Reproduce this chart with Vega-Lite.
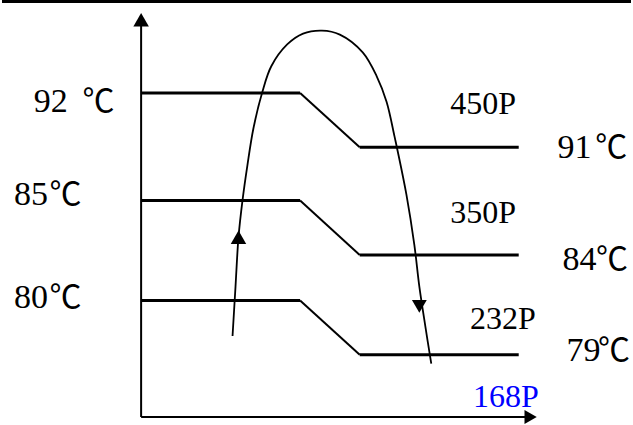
{
  "$schema": "https://vega.github.io/schema/vega-lite/v6.json",
  "width": 633,
  "height": 425,
  "padding": 0,
  "autosize": {"type": "fit", "contains": "padding"},
  "config": {"view": {"stroke": null}, "background": "white"},
  "datasets": {
    "thick": [
      {"x": 0, "x2": 633, "y": 1.5, "y2": 1.5},
      {"x": 140, "x2": 300, "y": 94, "y2": 94},
      {"x": 360, "x2": 520, "y": 149, "y2": 149},
      {"x": 140, "x2": 300, "y": 203, "y2": 203},
      {"x": 360, "x2": 520, "y": 258, "y2": 258},
      {"x": 140, "x2": 300, "y": 304, "y2": 304},
      {"x": 360, "x2": 520, "y": 359, "y2": 359}
    ],
    "thin": [
      {"x": 300, "x2": 360, "y": 94, "y2": 149},
      {"x": 300, "x2": 360, "y": 203, "y2": 258},
      {"x": 300, "x2": 360, "y": 304, "y2": 359},
      {"x": 140, "x2": 140, "y": 422, "y2": 26},
      {"x": 140, "x2": 527, "y": 422, "y2": 422}
    ],
    "curve": [
      {"o": 1, "x": 232, "y": 340},
      {"o": 2, "x": 235, "y": 290},
      {"o": 3, "x": 238, "y": 240},
      {"o": 4, "x": 242, "y": 203},
      {"o": 5, "x": 247, "y": 167},
      {"o": 6, "x": 253, "y": 130},
      {"o": 7, "x": 262, "y": 93},
      {"o": 8, "x": 271, "y": 67},
      {"o": 9, "x": 287, "y": 45},
      {"o": 10, "x": 303, "y": 34},
      {"o": 11, "x": 322, "y": 31},
      {"o": 12, "x": 340, "y": 35},
      {"o": 13, "x": 363, "y": 53},
      {"o": 14, "x": 377, "y": 77},
      {"o": 15, "x": 387, "y": 103},
      {"o": 16, "x": 395, "y": 138},
      {"o": 17, "x": 398, "y": 152},
      {"o": 18, "x": 407, "y": 197},
      {"o": 19, "x": 415, "y": 248},
      {"o": 20, "x": 420, "y": 290},
      {"o": 21, "x": 426, "y": 330},
      {"o": 22, "x": 432, "y": 368}
    ],
    "up": [
      {"x": 140, "y": 20},
      {"x": 238, "y": 240}
    ],
    "down": [
      {"x": 420, "y": 310}
    ],
    "right": [
      {"x": 532, "y": 422}
    ],
    "temps": [
      {"x": 32, "y": 113, "t": "92"},
      {"x": 12, "y": 207, "t": "85"},
      {"x": 12, "y": 312, "t": "80"},
      {"x": 559, "y": 160, "t": "91"},
      {"x": 564, "y": 273, "t": "84"},
      {"x": 568, "y": 365, "t": "79"}
    ],
    "units": [
      {"x": 97, "y": 113, "t": "℃"},
      {"x": 64, "y": 207, "t": "℃"},
      {"x": 64, "y": 312, "t": "℃"},
      {"x": 613, "y": 160, "t": "℃"},
      {"x": 614, "y": 273, "t": "℃"},
      {"x": 616, "y": 365, "t": "℃"}
    ],
    "pv": [
      {"x": 451, "y": 115, "t": "450P"},
      {"x": 451, "y": 226, "t": "350P"},
      {"x": 471, "y": 333, "t": "232P"}
    ],
    "bluep": [
      {"x": 474, "y": 412, "t": "168P"}
    ]
  },
  "encoding": {
    "x": {"field": "x", "type": "quantitative", "scale": {"domain": [0, 633], "nice": false, "zero": false}, "axis": null},
    "y": {"field": "y", "type": "quantitative", "scale": {"domain": [0, 425], "nice": false, "zero": false, "reverse": true}, "axis": null}
  },
  "layer": [
    {
      "data": {"name": "thick"},
      "mark": {"type": "rule", "strokeWidth": 3, "color": "black"},
      "encoding": {"x2": {"field": "x2"}, "y2": {"field": "y2"}}
    },
    {
      "data": {"name": "thin"},
      "mark": {"type": "rule", "strokeWidth": 2, "color": "black"},
      "encoding": {"x2": {"field": "x2"}, "y2": {"field": "y2"}}
    },
    {
      "data": {"name": "curve"},
      "mark": {"type": "line", "strokeWidth": 1.8, "color": "black", "interpolate": "catmull-rom"},
      "encoding": {"order": {"field": "o", "type": "quantitative"}}
    },
    {
      "data": {"name": "up"},
      "mark": {"type": "point", "shape": "triangle-up", "size": 240, "filled": true, "color": "black", "opacity": 1},
      "encoding": {}
    },
    {
      "data": {"name": "down"},
      "mark": {"type": "point", "shape": "triangle-down", "size": 220, "filled": true, "color": "black", "opacity": 1},
      "encoding": {}
    },
    {
      "data": {"name": "right"},
      "mark": {"type": "point", "shape": "triangle-right", "size": 200, "filled": true, "color": "black", "opacity": 1},
      "encoding": {}
    },
    {
      "data": {"name": "temps"},
      "mark": {"type": "text", "font": "Liberation Serif", "fontSize": 34, "align": "left", "baseline": "alphabetic", "color": "black"},
      "encoding": {"text": {"field": "t"}}
    },
    {
      "data": {"name": "units"},
      "mark": {"type": "text", "font": "Noto Sans CJK SC", "fontSize": 32, "align": "center", "baseline": "alphabetic", "color": "black"},
      "encoding": {"text": {"field": "t"}}
    },
    {
      "data": {"name": "pv"},
      "mark": {"type": "text", "font": "Liberation Serif", "fontSize": 32, "align": "left", "baseline": "alphabetic", "color": "black"},
      "encoding": {"text": {"field": "t"}}
    },
    {
      "data": {"name": "bluep"},
      "mark": {"type": "text", "font": "Liberation Serif", "fontSize": 32, "align": "left", "baseline": "alphabetic", "color": "#0000ff"},
      "encoding": {"text": {"field": "t"}}
    }
  ]
}
